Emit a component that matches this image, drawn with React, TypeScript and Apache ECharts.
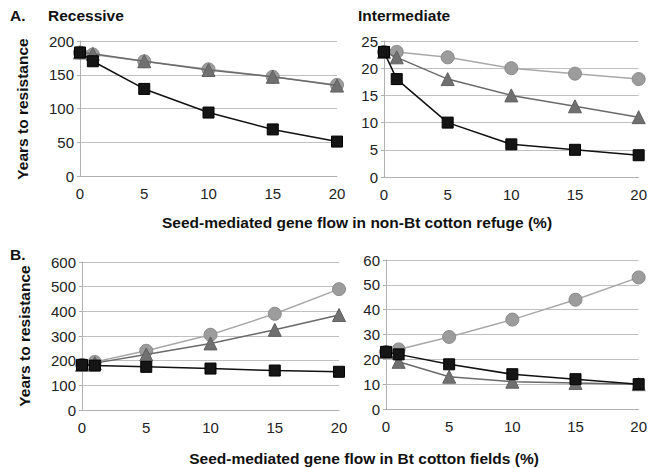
import React, { useEffect, useRef } from "react";
import * as echarts from "echarts";

const xValues = [0, 1, 5, 10, 15, 20];

// Panel A: gene flow in non-Bt cotton refuge
const aRecCircle = [183, 180, 170, 158, 147, 135];
const aRecTriangle = [183, 181, 170, 157, 147, 134];
const aRecSquare = [183, 170, 129, 94, 69, 51];
const aIntCircle = [23, 23, 22, 20, 19, 18];
const aIntTriangle = [23, 22, 18, 15, 13, 11];
const aIntSquare = [23, 18, 10, 6, 5, 4];

// Panel B: gene flow in Bt cotton fields
const bRecCircle = [183, 195, 240, 305, 390, 490];
const bRecTriangle = [183, 190, 225, 270, 325, 385];
const bRecSquare = [183, 180, 175, 168, 160, 155];
const bIntCircle = [23, 24, 29, 36, 44, 53];
const bIntTriangle = [23, 19, 13, 11, 10.5, 10];
const bIntSquare = [23, 22, 18, 14, 12, 10];

const panelTitles = ["Recessive", "Intermediate"];
const yAxisTitle = "Years to resistance";
const xTitleA = "Seed-mediated gene flow in non-Bt cotton refuge (%)";
const xTitleB = "Seed-mediated gene flow in Bt cotton fields (%)";

const FONT = "Liberation Sans, Arial, sans-serif";

export default function App() {
  const ref = useRef<HTMLDivElement>(null);
  useEffect(() => {
    document.body.style.margin = "0";
    const chart = echarts.init(ref.current!, null, { renderer: "svg" });

    const grids = [
      { left: 80, top: 41, width: 257, height: 135 },
      { left: 384, top: 41, width: 257, height: 136 },
      { left: 82, top: 262, width: 257, height: 148 },
      { left: 386, top: 260, width: 256, height: 149 },
    ];
    const yCfg = [
      { max: 200, interval: 50 },
      { max: 25, interval: 5 },
      { max: 600, interval: 100 },
      { max: 60, interval: 10 },
    ];
    const xAxis = grids.map((_, i) => ({
      type: "value",
      gridIndex: i,
      min: 0,
      max: 20,
      interval: 5,
      axisLine: { show: true, lineStyle: { color: "#b0b0b0", width: 1 } },
      axisTick: { show: false },
      splitLine: { show: false },
      axisLabel: { color: "#222", fontSize: 15, fontFamily: FONT, margin: 10 },
    }));
    const yAxis = grids.map((_, i) => ({
      type: "value",
      gridIndex: i,
      min: 0,
      max: yCfg[i].max,
      interval: yCfg[i].interval,
      axisLine: { show: true, lineStyle: { color: "#b0b0b0", width: 1 } },
      axisTick: { show: true, length: 3, lineStyle: { color: "#b0b0b0" } },
      splitLine: { show: true, lineStyle: { color: "#c0c0c0", width: 1 } },
      axisLabel: { color: "#222", fontSize: 15, fontFamily: FONT, margin: 6 },
    }));

    const mk = (vals: number[]) => xValues.map((x, i) => [x, vals[i]]);
    const styles = {
      circle: { line: "#a8a8a8", fill: "#9c9c9c", border: "#8a8a8a", size: 13, symbol: "circle" },
      triangle: { line: "#6a6a6a", fill: "#707070", border: "#606060", size: 13, symbol: "triangle" },
      square: { line: "#111", fill: "#151515", border: "#000", size: 11, symbol: "rect" },
    } as const;
    const makeSeries = (vals: number[], idx: number, kind: keyof typeof styles) => {
      const s = styles[kind];
      return {
        type: "line",
        xAxisIndex: idx,
        yAxisIndex: idx,
        data: mk(vals),
        symbol: s.symbol,
        symbolSize: s.size,
        showSymbol: true,
        lineStyle: { color: s.line, width: 1.5 },
        itemStyle: { color: s.fill, borderColor: s.border, borderWidth: 1 },
        z: kind === "square" ? 4 : kind === "triangle" ? 3 : 2,
      };
    };
    const series = [
      makeSeries(aRecCircle, 0, "circle"),
      makeSeries(aRecTriangle, 0, "triangle"),
      makeSeries(aRecSquare, 0, "square"),
      makeSeries(aIntCircle, 1, "circle"),
      makeSeries(aIntTriangle, 1, "triangle"),
      makeSeries(aIntSquare, 1, "square"),
      makeSeries(bRecCircle, 2, "circle"),
      makeSeries(bRecTriangle, 2, "triangle"),
      makeSeries(bRecSquare, 2, "square"),
      makeSeries(bIntCircle, 3, "circle"),
      makeSeries(bIntTriangle, 3, "triangle"),
      makeSeries(bIntSquare, 3, "square"),
    ];

    const bold = (text: string, x: number, y: number, align = "left", extra: any = {}) => ({
      type: "text",
      x,
      y,
      ...extra,
      style: {
        text,
        fill: "#111",
        font: `bold 15.5px ${FONT}`,
        textAlign: align,
        textVerticalAlign: "middle",
      },
    });

    chart.setOption({
      animation: false,
      grid: grids,
      xAxis,
      yAxis,
      series,
      graphic: [
        bold("A.", 10, 15),
        bold(panelTitles[0], 48, 15),
        bold(panelTitles[1], 358, 15),
        bold("B.", 10, 254),
        bold(xTitleA, 357, 222, "center"),
        bold(xTitleB, 364, 458, "center"),
        bold(yAxisTitle, 22, 109, "center", { rotation: Math.PI / 2 }),
        bold(yAxisTitle, 24, 336, "center", { rotation: Math.PI / 2 }),
      ],
    });
    return () => chart.dispose();
  }, []);
  return <div ref={ref} style={{ width: 650, height: 468 }} />;
}
